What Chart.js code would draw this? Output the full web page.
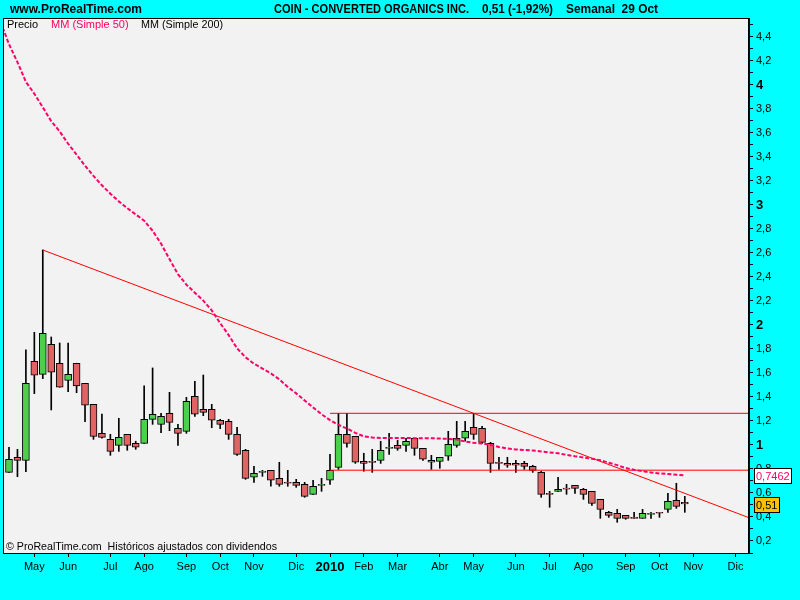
<!DOCTYPE html>
<html>
<head>
<meta charset="utf-8">
<script src="https://cdn.jsdelivr.net/npm/chart.js@4.4.0/dist/chart.umd.min.js"></script>
<style>
html, body { margin: 0; padding: 0; background: #00ffff; }
canvas { display: block; }
</style>
</head>
<body>
<canvas id="coinChart" width="800" height="600"></canvas>
<script>
// weekly candles, index 0 = week of 13 Apr 2009, last = week of 25 Oct 2010
const opens = [0.772, 0.897, 0.872, 1.697, 1.589, 1.839, 1.681, 1.539, 1.681, 1.514,
    1.339, 1.097, 1.047, 0.997, 1.089, 1.014, 1.014, 1.214, 1.172, 1.264,
    1.139, 1.114, 1.406, 1.297, 1.297, 1.206, 1.197, 1.089, 0.956, 0.731,
    0.772, 0.789, 0.722, 0.689, 0.689, 0.672, 0.589, 0.664, 0.706, 0.814,
    1.089, 1.072, 0.864, 0.860, 0.872, 0.972, 0.997, 0.997, 1.056, 0.972,
    0.872, 0.864, 0.906, 0.997, 1.056, 1.147, 1.139, 1.014, 0.856, 0.847,
    0.847, 0.847, 0.822, 0.772, 0.597, 0.614, 0.640, 0.664, 0.631, 0.614,
    0.547, 0.439, 0.431, 0.414, 0.397, 0.389, 0.422, 0.439, 0.464, 0.539,
    0.522];
const highs = [0.981, 0.964, 1.792, 1.939, 2.625, 1.900, 1.850, 1.850, 1.681, 1.514,
    1.339, 1.258, 1.089, 1.222, 1.089, 1.031, 1.492, 1.642, 1.264, 1.439,
    1.172, 1.397, 1.531, 1.583, 1.339, 1.214, 1.214, 1.147, 0.964, 0.822,
    0.789, 0.789, 0.856, 0.789, 0.714, 0.689, 0.706, 0.722, 0.922, 1.264,
    1.264, 1.072, 0.931, 0.964, 1.031, 1.097, 1.039, 1.056, 1.056, 0.972,
    0.914, 0.897, 1.114, 1.197, 1.197, 1.264, 1.156, 1.022, 0.897, 0.897,
    0.872, 0.864, 0.831, 0.781, 0.614, 0.731, 0.672, 0.664, 0.639, 0.614,
    0.547, 0.447, 0.464, 0.414, 0.439, 0.464, 0.439, 0.439, 0.597, 0.681,
    0.572];
const lows = [0.772, 0.736, 0.778, 1.428, 1.553, 1.292, 1.481, 1.444, 1.436, 1.194,
    1.047, 1.056, 0.914, 0.947, 0.956, 0.964, 1.014, 1.172, 1.103, 1.119,
    0.997, 1.097, 1.239, 1.244, 1.144, 1.136, 1.047, 0.914, 0.714, 0.689,
    0.739, 0.656, 0.656, 0.656, 0.647, 0.564, 0.589, 0.614, 0.672, 0.797,
    0.981, 0.847, 0.781, 0.772, 0.847, 0.922, 0.956, 0.947, 0.914, 0.872,
    0.797, 0.806, 0.872, 0.981, 1.031, 1.047, 1.014, 0.772, 0.797, 0.814,
    0.772, 0.797, 0.772, 0.564, 0.481, 0.614, 0.589, 0.597, 0.547, 0.497,
    0.389, 0.397, 0.356, 0.381, 0.389, 0.389, 0.389, 0.397, 0.439, 0.472,
    0.439];
const closes = [0.881, 0.872, 1.514, 1.581, 1.931, 1.606, 1.481, 1.589, 1.492, 1.331,
    1.072, 1.064, 0.947, 1.064, 0.997, 0.981, 1.214, 1.256, 1.239, 1.189,
    1.097, 1.364, 1.256, 1.272, 1.206, 1.172, 1.089, 0.922, 0.722, 0.764,
    0.772, 0.706, 0.672, 0.681, 0.664, 0.572, 0.656, 0.664, 0.789, 1.089,
    1.014, 0.856, 0.847, 0.855, 0.956, 0.972, 0.972, 1.031, 0.972, 0.881,
    0.856, 0.897, 1.006, 1.056, 1.114, 1.089, 1.022, 0.847, 0.847, 0.831,
    0.831, 0.822, 0.789, 0.589, 0.589, 0.631, 0.632, 0.639, 0.589, 0.514,
    0.464, 0.414, 0.389, 0.389, 0.389, 0.431, 0.422, 0.431, 0.531, 0.489,
    0.510];
// MM (Simple 50); first value is the week before the first visible candle
const maStart = -1;
const ma50 = [4.525,
    4.340, 4.190, 4.026, 3.927, 3.814, 3.698, 3.613, 3.510, 3.420, 3.327,
    3.243, 3.164, 3.094, 3.030, 2.973, 2.921, 2.869, 2.785, 2.678, 2.549,
    2.424, 2.336, 2.269, 2.203, 2.122, 2.015, 1.916, 1.805, 1.731, 1.677,
    1.637, 1.596, 1.547, 1.484, 1.430, 1.371, 1.313, 1.256, 1.207, 1.167,
    1.138, 1.101, 1.072, 1.062, 1.059, 1.058, 1.058, 1.058, 1.057, 1.057,
    1.056, 1.054, 1.051, 1.046, 1.029, 1.018, 1.013, 1.000, 0.983, 0.971,
    0.963, 0.958, 0.954, 0.946, 0.938, 0.931, 0.918, 0.906, 0.896, 0.885,
    0.873, 0.852, 0.832, 0.808, 0.793, 0.782, 0.771, 0.763, 0.758, 0.753,
    0.7462];

const monthTicks = [3, 7, 12, 16, 21, 25, 29, 34, 38, 42, 46, 51, 55, 60, 64, 68, 73, 77, 81, 86];
const monthLabels = ['May', 'Jun', 'Jul', 'Ago', 'Sep', 'Oct', 'Nov', 'Dic', '2010', 'Feb',
    'Mar', 'Abr', 'May', 'Jun', 'Jul', 'Ago', 'Sep', 'Oct', 'Nov', 'Dic'];

// drawn lines: trend through two highs, and the range box from Jan 2010
const trendIdx = [4, 55];
const trendVal = [2.625, 1.264];
const rangeStart = 38;
const resistance = 1.264;
const support = 0.79;

const xMin = -0.71, xMax = 87.6;
const yMin = 0.1, yMax = 4.558;

const FONT = '"Liberation Sans", Arial, sans-serif';
const GREEN = '#4cd04c';
const RED = '#e06464';
const MAGENTA = '#ff0066';

const slope = (trendVal[1] - trendVal[0]) / (trendIdx[1] - trendIdx[0]);
const trendEnd = trendVal[0] + slope * (xMax - trendIdx[0]);

const wicks = lows.map((v, i) => ({ x: i, y: [v, highs[i]] }));
const bodies = opens.map((v, i) => ({ x: i, y: [v, closes[i]] }));
const bodyColors = opens.map((v, i) => closes[i] >= v ? GREEN : RED);

function fmt(v, d) {
    return v.toFixed(d).replace('.', ',');
}

const decor = {
    id: 'decor',
    beforeDraw(chart) {
        const { ctx, chartArea: a } = chart;
        ctx.save();
        ctx.fillStyle = '#00ffff';
        ctx.fillRect(0, 0, chart.width, chart.height);
        ctx.fillStyle = '#f2f2f2';
        ctx.fillRect(a.left, a.top, a.right - a.left, a.bottom - a.top);
        ctx.restore();
    },
    afterDatasetsDraw(chart) {
        const { ctx, chartArea: a } = chart;
        ctx.save();
        ctx.strokeStyle = '#000';
        ctx.lineWidth = 1;
        ctx.strokeRect(a.left + 0.5, a.top + 0.5, a.right - a.left - 1, a.bottom - a.top);

        ctx.font = '11px ' + FONT;
        ctx.textBaseline = 'middle';
        ctx.fillStyle = '#000';
        ctx.fillText('Precio', a.left + 4, a.top + 7);
        ctx.fillStyle = MAGENTA;
        ctx.fillText('MM (Simple 50)', a.left + 48, a.top + 7);
        ctx.fillStyle = '#000';
        ctx.fillText('MM (Simple 200)', a.left + 138, a.top + 7, 82);

        ctx.fillText('\u00a9 ProRealTime.com  Hist\u00f3ricos ajustados con dividendos', a.left + 3, a.bottom - 6, 271);
        ctx.restore();
    },
    afterDraw(chart) {
        const { ctx } = chart;
        const y = chart.scales.y;
        ctx.save();
        ctx.textBaseline = 'middle';
        ctx.fillStyle = '#000';
        ctx.font = 'bold 12px ' + FONT;
        ctx.fillText('www.ProRealTime.com', 10, 9.5);
        ctx.fillText('COIN - CONVERTED ORGANICS INC.', 274, 9.5, 195);
        ctx.fillText(fmt(closes[closes.length - 1], 2) + ' (-1,92%)', 482, 9.5, 71);
        ctx.fillText('Semanal  29 Oct', 566, 9.5, 92);

        ctx.font = '11px ' + FONT;
        const boxes = [
            { v: ma50[ma50.length - 1], txt: fmt(ma50[ma50.length - 1], 4), fg: MAGENTA, bg: '#ffffff' },
            { v: closes[closes.length - 1], txt: fmt(closes[closes.length - 1], 2), fg: '#000000', bg: '#ffc000' }
        ];
        boxes.forEach(b => {
            const py = Math.round(y.getPixelForValue(b.v));
            const w = Math.ceil(ctx.measureText(b.txt).width) + 3;
            const bx = 754, by = py - 7, h = 15;
            ctx.fillStyle = b.bg;
            ctx.fillRect(bx, by, w, h);
            ctx.strokeStyle = '#000';
            ctx.lineWidth = 1;
            ctx.strokeRect(bx + 0.5, by + 0.5, w, h);
            ctx.fillStyle = b.fg;
            ctx.fillText(b.txt, bx + 2, by + 8.5);
        });
        ctx.restore();
    }
};

new Chart(document.getElementById('coinChart'), {
    type: 'bar',
    data: {
        datasets: [{
            label: 'MM (Simple 50)',
            type: 'line',
            data: ma50.map((v, i) => ({ x: i + maStart, y: v })),
            borderColor: MAGENTA,
            borderWidth: 2,
            borderDash: [4, 2],
            pointRadius: 0,
            tension: 0,
            order: -2
        }, {
            label: 'trend',
            type: 'line',
            data: [{ x: trendIdx[0], y: trendVal[0] }, { x: xMax, y: trendEnd }],
            borderColor: '#ff0000',
            borderWidth: 1,
            pointRadius: 0,
            order: -1
        }, {
            label: 'resistance',
            type: 'line',
            data: [{ x: rangeStart, y: resistance }, { x: xMax, y: resistance }],
            borderColor: '#ff0000',
            borderWidth: 1,
            pointRadius: 0,
            order: -1
        }, {
            label: 'support',
            type: 'line',
            data: [{ x: rangeStart, y: support }, { x: xMax, y: support }],
            borderColor: '#ff0000',
            borderWidth: 1,
            pointRadius: 0,
            order: -1
        }, {
            label: 'Precio',
            data: bodies,
            backgroundColor: bodyColors,
            borderColor: '#000',
            borderWidth: 1,
            borderSkipped: false,
            barThickness: 7,
            minBarLength: 1,
            grouped: false,
            order: 0
        }, {
            label: 'wick',
            data: wicks,
            backgroundColor: '#000',
            borderWidth: 0,
            barThickness: 1,
            grouped: false,
            order: 1
        }]
    },
    options: {
        responsive: false,
        animation: false,
        events: [],
        layout: {
            padding: { left: 3, top: 18, right: 0, bottom: 0 }
        },
        plugins: {
            legend: { display: false },
            tooltip: { enabled: false }
        },
        scales: {
            x: {
                type: 'linear',
                min: xMin,
                max: xMax,
                offset: false,
                afterBuildTicks: (scale) => {
                    scale.ticks = monthTicks.map(v => ({ value: v }));
                },
                afterFit: (scale) => { scale.height = 47; },
                grid: {
                    drawOnChartArea: false,
                    offset: false,
                    color: '#000',
                    tickLength: 4
                },
                border: { display: true, color: '#000' },
                ticks: {
                    autoSkip: false,
                    maxRotation: 0,
                    minRotation: 0,
                    padding: 3,
                    color: '#000',
                    font: (c) => monthLabels[c.index] === '2010'
                        ? { family: FONT, size: 13, weight: 'bold' }
                        : { family: FONT, size: 11 },
                    callback: (v, i) => monthLabels[i]
                }
            },
            y: {
                type: 'linear',
                position: 'right',
                min: yMin,
                max: yMax,
                beginAtZero: false,
                afterBuildTicks: (scale) => {
                    const t = [];
                    for (let k = 1; k <= 45; k++) t.push({ value: k / 10 });
                    scale.ticks = t;
                },
                afterFit: (scale) => { scale.width = 51; },
                grid: {
                    drawOnChartArea: false,
                    color: '#000',
                    tickLength: 4
                },
                border: { display: true, color: '#000' },
                ticks: {
                    autoSkip: false,
                    padding: 3,
                    color: '#000',
                    font: (c) => c.tick && Math.round(c.tick.value * 10) % 10 === 0
                        ? { family: FONT, size: 13, weight: 'bold' }
                        : { family: FONT, size: 11 },
                    callback: (v) => {
                        const t = Math.round(v * 10);
                        if (t % 2) return '';
                        if (t % 10 === 0) return String(t / 10);
                        return fmt(t / 10, 1);
                    }
                }
            }
        }
    },
    plugins: [decor]
});
</script>
</body>
</html>
